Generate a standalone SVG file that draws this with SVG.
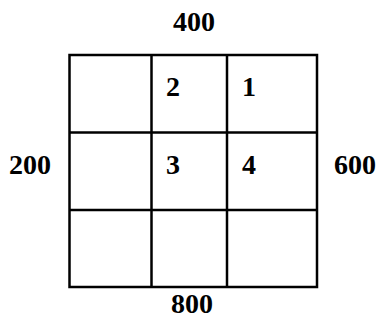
<svg xmlns="http://www.w3.org/2000/svg" width="379" height="323" viewBox="0 0 379 323">
<style>
.g{fill:none;stroke:#000;stroke-width:2.5}
.t{font-family:"Liberation Serif","Times New Roman",serif;font-weight:bold;font-size:28px;fill:#000}
.c{text-anchor:middle}
</style>
<rect width="379" height="323" fill="#fff"/>
<g id="grid">
<rect class="g" x="69.5" y="55" width="247.5" height="232"/>
<line class="g" x1="151.5" y1="55" x2="151.5" y2="287"/>
<line class="g" x1="227" y1="55" x2="227" y2="287"/>
<line class="g" x1="69.5" y1="132.5" x2="317" y2="132.5"/>
<line class="g" x1="69.5" y1="210" x2="317" y2="210"/>
</g>
<g id="labels">
<text class="t c" x="194" y="31">400</text>
<text class="t c" x="192" y="313">800</text>
<text class="t c" x="30" y="174">200</text>
<text class="t c" x="355" y="174">600</text>
<text class="t" x="166" y="96">2</text>
<text class="t" x="242" y="96">1</text>
<text class="t" x="166" y="174">3</text>
<text class="t" x="242" y="174">4</text>
</g>
</svg>
